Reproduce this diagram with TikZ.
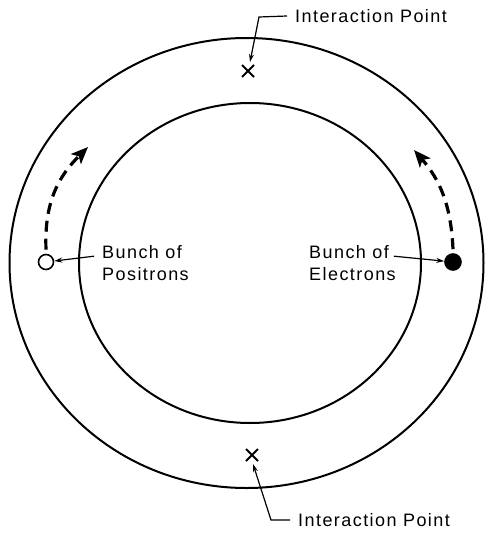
\documentclass[tikz,border=0pt]{standalone}
\usepackage{fontspec}
\setmainfont{Liberation Sans}[LetterSpace=8]
\usetikzlibrary{arrows.meta,calc}
\begin{document}
\begin{tikzpicture}[x=1pt,y=-1pt,
  ring/.style={line width=2pt},
  lbl/.style={font=\fontsize{18}{22}\selectfont, inner sep=0pt, align=left},
  leader/.style={line width=1.2pt, -{Stealth[length=8pt,width=5pt]}},
  travel/.style={line width=3.2pt, dash pattern=on 11pt off 7pt, -{Stealth[length=17pt,width=14pt,inset=4pt]}},
  xmark/.style={line width=2pt}]
\useasboundingbox (0,0) rectangle (485,554);
\draw[ring] (246.5,263) ellipse [x radius=237, y radius=225];
\draw[ring] (250,263) ellipse [x radius=171, y radius=160];
% interaction points
\coordinate (ipt) at (248,71);
\coordinate (ipb) at (252,455);
\draw[xmark] ($(ipt)+(-6,-6)$) -- ($(ipt)+(6,6)$) ($(ipt)+(6,-6)$) -- ($(ipt)+(-6,6)$);
\draw[xmark] ($(ipb)+(-6,-6)$) -- ($(ipb)+(6,6)$) ($(ipb)+(6,-6)$) -- ($(ipb)+(-6,6)$);
\node[lbl, anchor=west] (tt) at (295,16) {Interaction Point};
\node[lbl, anchor=west] (tb) at (298,520) {Interaction Point};
\coordinate (tk) at (259,17);
\coordinate (bk) at (271,520);
\draw[leader] ($(tt.west)+(-8,0)$) -- (tk) -- ($(ipt)+(2,-9)$);
\draw[leader] ($(tb.west)+(-8,0)$) -- (bk) -- ($(ipb)+(1,9)$);
% bunches
\node[draw, circle, line width=1.6pt, minimum size=15pt, inner sep=0pt] (pos) at (46,262) {};
\node[draw, fill=black, circle, line width=1.6pt, minimum size=16pt, inner sep=0pt] (ele) at (453,262) {};
\node[lbl, anchor=west] (pt) at (102,263) {Bunch of\\Positrons};
\node[lbl, anchor=west] (et) at (309,263) {Bunch of\\Electrons};
\draw[leader] ($(pt.north west)+(-8,11)$) -- (pos);
\draw[leader] ($(et.north east)+(-2,11)$) -- (ele);
% direction arrows
\draw[travel] ($(pos.north)+(0,-4)$) .. controls (44,200) and (60,175) .. (88,147);
\draw[travel] ($(ele.north)+(0,-4)$) .. controls (451,205) and (440,180) .. (414,150);
\end{tikzpicture}
\end{document}
